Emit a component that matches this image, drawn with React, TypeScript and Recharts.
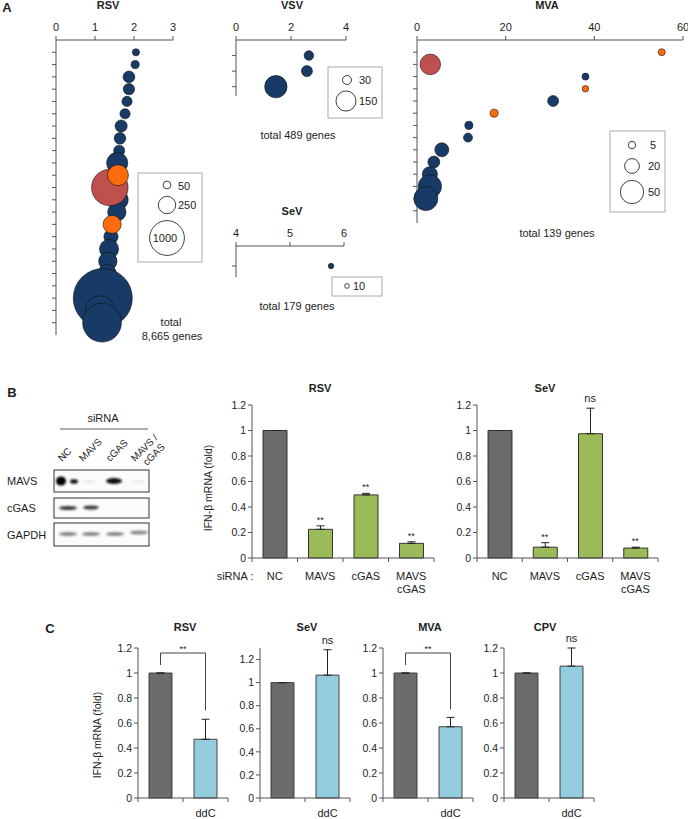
import React from 'react';
import {
  ScatterChart,
  Scatter,
  XAxis,
  YAxis,
  ComposedChart,
  Bar,
  ErrorBar,
  Cell,
  ReferenceLine,
} from 'recharts';

const FONT = '"Liberation Sans", Arial, Helvetica, sans-serif';
const NAVY = '#173a66';
const ORANGE = '#ff6a0a';
const RED = '#c0504d';
const GRAY = '#6b6b6b';
const GREEN = '#9bbb59';
const LBLUE = '#93cddd';
const AX = '#555555';
const TXT = '#1e1e1e';

// ---------------- Panel A data ----------------
type Pt = { x: number; y: number; z: number };

const rsvXTicks = [0, 1, 2, 3];
const rsvRowTicks = [1, 2, 3, 4, 5, 6, 7, 8, 9, 10, 11, 12, 13, 14, 15, 16, 17, 18, 19, 20, 21, 22, 23];
const rsvBlue: Pt[] = [
  { x: 2.05, y: 1, z: 42 },
  { x: 2.03, y: 2, z: 55 },
  { x: 1.87, y: 3, z: 115 },
  { x: 1.87, y: 4, z: 105 },
  { x: 1.82, y: 5, z: 86 },
  { x: 1.77, y: 6, z: 86 },
  { x: 1.67, y: 7, z: 123 },
  { x: 1.64, y: 8, z: 110 },
  { x: 1.62, y: 9, z: 100 },
  { x: 1.57, y: 10, z: 370 },
  { x: 1.6, y: 13, z: 320 },
  { x: 1.56, y: 14, z: 278 },
  { x: 1.41, y: 16, z: 168 },
  { x: 1.36, y: 17, z: 300 },
  { x: 1.33, y: 18, z: 278 },
  { x: 1.31, y: 19, z: 278 },
  { x: 1.28, y: 20, z: 300 },
  { x: 1.2, y: 21, z: 2880 },
  { x: 1.13, y: 22, z: 720 },
  { x: 1.18, y: 23, z: 1240 },
];
const rsvRed: Pt[] = [{ x: 1.38, y: 12, z: 1100 }];
const rsvOrange: Pt[] = [
  { x: 1.59, y: 11, z: 360 },
  { x: 1.44, y: 15, z: 270 },
];
const rsvLegend = [50, 250, 1000];

const vsvXTicks = [0, 2, 4];
const vsvRowTicks = [1, 2, 3];
const vsvBlue: Pt[] = [
  { x: 2.65, y: 1, z: 34 },
  { x: 2.58, y: 2, z: 45 },
  { x: 1.45, y: 3, z: 186 },
];
const vsvLegend = [30, 150];

const sevAXTicks = [4, 5, 6];
const sevARowTicks = [1];
const sevABlue: Pt[] = [{ x: 5.76, y: 1, z: 14 }];
const sevALegend = [10];

const mvaXTicks = [0, 20, 40, 60];
const mvaRowTicks = [1, 2, 3, 4, 5, 6, 7, 8, 9, 10, 11, 12, 13, 14];
const mvaBlue: Pt[] = [
  { x: 38, y: 3, z: 4.5 },
  { x: 30.7, y: 5, z: 11 },
  { x: 11.7, y: 7, z: 6 },
  { x: 11.5, y: 8, z: 7.4 },
  { x: 5.6, y: 9, z: 18 },
  { x: 3.8, y: 10, z: 13 },
  { x: 2.9, y: 11, z: 21 },
  { x: 2.9, y: 12, z: 50 },
  { x: 2.0, y: 13, z: 53 },
];
const mvaRed: Pt[] = [{ x: 3, y: 2, z: 39 }];
const mvaOrange: Pt[] = [
  { x: 55.2, y: 1, z: 4.5 },
  { x: 38, y: 4, z: 3.8 },
  { x: 17.4, y: 6, z: 6 },
];
const mvaLegend = [5, 20, 50];

// ---------------- Panel B data ----------------
const bCategories = ['NC', 'MAVS', 'cGAS', 'MAVS\ncGAS'];
const bRsvValues = [1, 0.225, 0.495, 0.115];
const bRsvErrors = [0, 0.027, 0.012, 0.012];
const bRsvSig = ['', '**', '**', '**'];
const bSevValues = [1, 0.085, 0.975, 0.078];
const bSevErrors = [0, 0.035, 0.2, 0.007];
const bSevSig = ['', '**', 'ns', '**'];
const bYTicks = [0, 0.2, 0.4, 0.6, 0.8, 1, 1.2];
const blotLanes = ['NC', 'MAVS', 'cGAS', 'MAVS /\ncGAS'];
const blotRows = ['MAVS', 'cGAS', 'GAPDH'];

// ---------------- Panel C data ----------------
const cCategories = ['ctrl', 'ddC'];
const cTitles = ['RSV', 'SeV', 'MVA', 'CPV'];
const cRsvValues = [1, 0.47];
const cRsvErrors = [0, 0.16];
const cSevValues = [1, 1.065];
const cSevErrors = [0, 0.22];
const cMvaValues = [1, 0.57];
const cMvaErrors = [0, 0.075];
const cCpvValues = [1, 1.055];
const cCpvErrors = [0, 0.145];
const cSig = [['', ''], ['', 'ns'], ['', ''], ['', 'ns']];
const cYTicks = [0, 0.2, 0.4, 0.6, 0.8, 1, 1.2];

// ---------------- helpers ----------------
const fmtNum = (v: number) => String(Math.round(v * 10) / 10);

function BubblePanel(p: {
  left: number;
  top: number;
  xAxisH: number;
  plotW: number;
  plotH: number;
  right: number;
  bottom: number;
  xDomain: [number, number];
  xTicks: number[];
  yDomain: [number, number];
  yTicks: number[];
  k: number;
  blue: Pt[];
  red?: Pt[];
  orange?: Pt[];
}) {
  const width = 10 + p.plotW + p.right;
  const height = p.xAxisH + p.plotH + p.bottom;
  const shape = (fill: string) => (s: any) =>
    s.cx == null ? (
      <g />
    ) : (
      <circle cx={s.cx} cy={s.cy} r={p.k * Math.sqrt(s.payload.z)} fill={fill} stroke="#111" strokeWidth={0.6} />
    );
  return (
    <div style={{ position: 'absolute', left: p.left, top: p.top }}>
      <ScatterChart
        width={width}
        height={height}
        margin={{ top: 0, right: p.right, bottom: p.bottom, left: 0 }}
        style={{ overflow: 'visible' }}
      >
        <XAxis
          type="number"
          dataKey="x"
          orientation="top"
          domain={p.xDomain}
          ticks={p.xTicks}
          height={p.xAxisH}
          tickSize={4}
          tickMargin={5}
          stroke={AX}
          interval={0}
          tick={{ fontSize: 11, fill: TXT, fontFamily: FONT }}
        />
        <YAxis
          type="number"
          dataKey="y"
          domain={p.yDomain}
          ticks={p.yTicks}
          reversed
          width={10}
          tickSize={4}
          interval={0}
          tickFormatter={() => ''}
          stroke={AX}
        />
        <Scatter data={p.blue} shape={shape(NAVY)} isAnimationActive={false} />
        {p.red && <Scatter data={p.red} shape={shape(RED)} isAnimationActive={false} />}
        {p.orange && <Scatter data={p.orange} shape={shape(ORANGE)} isAnimationActive={false} />}
      </ScatterChart>
    </div>
  );
}

const makeCatTick = (tickMargin: number, firstDy: number, halfBand: number) => (props: any) => {
  const { x, y, payload, index } = props;
  const off = payload && typeof payload.offset === 'number' && payload.offset > 0 ? payload.offset : halfBand;
  const ay = y - tickMargin;
  const raw = String(payload.value);
  const text = raw === 'ctrl' ? '' : raw;
  const lines = text ? text.split('\n') : [];
  return (
    <g>
      {index === 0 && <line x1={x - off} x2={x - off} y1={ay} y2={ay + 4} stroke={AX} />}
      <line x1={x + off} x2={x + off} y1={ay} y2={ay + 4} stroke={AX} />
      <text x={x} y={y} textAnchor="middle" fontSize={11} fill={TXT} fontFamily={FONT}>
        {lines.map((l, i) => (
          <tspan key={i} x={x} dy={i === 0 ? firstDy : 12.5}>
            {l}
          </tspan>
        ))}
      </text>
    </g>
  );
};

const sigShape = (s: any) => {
  const sig = s.payload && s.payload.sig;
  if (!sig || s.cx == null) return <g />;
  const star = sig.indexOf('*') >= 0;
  return (
    <text
      x={s.cx}
      y={s.cy - (star ? 3 : 6)}
      textAnchor="middle"
      fontSize={star ? 9 : 11}
      fill={TXT}
      fontFamily={FONT}
    >
      {sig}
    </text>
  );
};

type Row = { name: string; v: number; err: [number, number]; top: number; sig: string; fill: string };

function buildRows(cats: string[], vals: number[], errs: number[], sig: string[], fills: string[]): Row[] {
  return cats.map((c, i) => ({
    name: c,
    v: vals[i],
    err: [0, errs[i]],
    top: vals[i] + errs[i],
    sig: sig[i],
    fill: fills[i],
  }));
}

function BarPanel(p: {
  left: number;
  top: number;
  marginTop: number;
  plotW: number;
  plotH: number;
  xAxisH: number;
  yDomain: [number, number];
  yTicks: number[];
  data: Row[];
  barSize: number;
  firstDy: number;
  barStroke: string;
  bracket?: { y1: number; y2: number; y3: number };
}) {
  const width = 30 + p.plotW + 6;
  const height = p.marginTop + p.plotH + p.xAxisH;
  const halfBand = p.plotW / p.data.length / 2;
  const n0 = p.data[0].name;
  const n1 = p.data[p.data.length - 1].name;
  return (
    <div style={{ position: 'absolute', left: p.left, top: p.top }}>
      <ComposedChart
        width={width}
        height={height}
        data={p.data}
        margin={{ top: p.marginTop, right: 6, bottom: 0, left: 0 }}
      >
        <XAxis
          dataKey="name"
          type="category"
          height={p.xAxisH}
          tickLine={false}
          tickSize={0}
          tickMargin={5}
          stroke={AX}
          interval={0}
          tick={makeCatTick(5, p.firstDy, halfBand)}
        />
        <YAxis
          type="number"
          domain={p.yDomain}
          ticks={p.yTicks}
          width={30}
          tickSize={4}
          tickMargin={2}
          stroke={AX}
          interval={0}
          tickFormatter={fmtNum}
          tick={{ fontSize: 10.5, fill: TXT, fontFamily: FONT }}
        />
        <Bar dataKey="v" barSize={p.barSize} isAnimationActive={false} stroke={p.barStroke} strokeWidth={0.9}>
          {p.data.map((d, i) => (
            <Cell key={i} fill={d.fill} />
          ))}
          <ErrorBar dataKey="err" width={4} stroke="#222" strokeWidth={1} direction="y" />
        </Bar>
        {p.bracket && (
          <ReferenceLine
            segment={[
              { x: n0, y: p.bracket.y1 },
              { x: n0, y: p.bracket.y2 },
            ]}
            stroke="#444"
            strokeWidth={1}
            ifOverflow="visible"
          />
        )}
        {p.bracket && (
          <ReferenceLine
            segment={[
              { x: n0, y: p.bracket.y2 },
              { x: n1, y: p.bracket.y2 },
            ]}
            stroke="#444"
            strokeWidth={1}
            ifOverflow="visible"
            label={{ value: '**', position: 'top', offset: 1, fontSize: 9, fill: TXT }}
          />
        )}
        {p.bracket && (
          <ReferenceLine
            segment={[
              { x: n1, y: p.bracket.y2 },
              { x: n1, y: p.bracket.y3 },
            ]}
            stroke="#444"
            strokeWidth={1}
            ifOverflow="visible"
          />
        )}
        <Scatter dataKey="top" shape={sigShape} isAnimationActive={false} />
      </ComposedChart>
    </div>
  );
}

function T(props: {
  x: number;
  y: number;
  size?: number;
  bold?: boolean;
  anchor?: 'start' | 'middle' | 'end';
  rotate?: number;
  children: React.ReactNode;
}) {
  const size = props.size || 11;
  const by = props.y + size * 0.36;
  return (
    <text
      x={props.x}
      y={by}
      fontSize={size}
      fontWeight={props.bold ? 'bold' : 'normal'}
      textAnchor={props.anchor || 'middle'}
      fill={TXT}
      fontFamily={FONT}
      transform={props.rotate ? `rotate(${props.rotate} ${props.x} ${props.y})` : undefined}
    >
      {props.children}
    </text>
  );
}

const K_RSV = 0.55;
const K_VSV = 0.82;
const K_SEV = 0.73;
const K_MVA = 1.65;

export default function App() {
  const bRsv = buildRows(bCategories, bRsvValues, bRsvErrors, bRsvSig, [GRAY, GREEN, GREEN, GREEN]);
  const bSev = buildRows(bCategories, bSevValues, bSevErrors, bSevSig, [GRAY, GREEN, GREEN, GREEN]);
  const cData = [
    buildRows(cCategories, cRsvValues, cRsvErrors, cSig[0], [GRAY, LBLUE]),
    buildRows(cCategories, cSevValues, cSevErrors, cSig[1], [GRAY, LBLUE]),
    buildRows(cCategories, cMvaValues, cMvaErrors, cSig[2], [GRAY, LBLUE]),
    buildRows(cCategories, cCpvValues, cCpvErrors, cSig[3], [GRAY, LBLUE]),
  ];
  const cPlotLefts = [138, 260, 383, 504];
  const cDomains: [number, number][] = [
    [0, 1.2],
    [0, 1.3],
    [0, 1.2],
    [0, 1.2],
  ];
  const cBrackets = [
    { y1: 1.064, y2: 1.16, y3: 0.7 },
    undefined,
    { y1: 1.064, y2: 1.16, y3: 0.71 },
    undefined,
  ];
  const cTitleX = [185, 307, 430, 545];

  const laneX = [66, 89, 113, 137];

  return (
    <div
      style={{
        position: 'absolute',
        left: 0,
        top: 0,
        width: 688,
        height: 819,
        background: '#ffffff',
        overflow: 'hidden',
        fontFamily: FONT,
      }}
    >
      {/* Panel A */}
      <BubblePanel
        left={46}
        top={0}
        xAxisH={40}
        plotW={117}
        plotH={295}
        right={10}
        bottom={10}
        xDomain={[0, 3]}
        xTicks={rsvXTicks}
        yDomain={[0, 24]}
        yTicks={rsvRowTicks}
        k={K_RSV}
        blue={rsvBlue}
        red={rsvRed}
        orange={rsvOrange}
      />
      <BubblePanel
        left={226}
        top={0}
        xAxisH={40}
        plotW={110}
        plotH={56}
        right={10}
        bottom={10}
        xDomain={[0, 4]}
        xTicks={vsvXTicks}
        yDomain={[0, 3.6]}
        yTicks={vsvRowTicks}
        k={K_VSV}
        blue={vsvBlue}
      />
      <BubblePanel
        left={226}
        top={216}
        xAxisH={30}
        plotW={108}
        plotH={31}
        right={10}
        bottom={5}
        xDomain={[4, 6]}
        xTicks={sevAXTicks}
        yDomain={[0, 1.55]}
        yTicks={sevARowTicks}
        k={K_SEV}
        blue={sevABlue}
      />
      <BubblePanel
        left={407}
        top={0}
        xAxisH={40}
        plotW={266}
        plotH={183}
        right={5}
        bottom={5}
        xDomain={[0, 60]}
        xTicks={mvaXTicks}
        yDomain={[0, 15]}
        yTicks={mvaRowTicks}
        k={K_MVA}
        blue={mvaBlue}
        red={mvaRed}
        orange={mvaOrange}
      />

      {/* Panel B charts */}
      <BarPanel
        left={222}
        top={390}
        marginTop={15}
        plotW={182}
        plotH={153}
        xAxisH={45}
        yDomain={[0, 1.2]}
        yTicks={bYTicks}
        data={bRsv}
        barSize={24}
        firstDy={17}
        barStroke="#222"
      />
      <BarPanel
        left={447}
        top={390}
        marginTop={15}
        plotW={181}
        plotH={153}
        xAxisH={45}
        yDomain={[0, 1.2]}
        yTicks={bYTicks}
        data={bSev}
        barSize={24}
        firstDy={17}
        barStroke="#222"
      />

      {/* Panel C charts */}
      {cData.map((d, i) => (
        <BarPanel
          key={i}
          left={cPlotLefts[i] - 30}
          top={626}
          marginTop={22}
          plotW={90}
          plotH={150}
          xAxisH={21}
          yDomain={cDomains[i]}
          yTicks={cYTicks}
          data={d}
          barSize={23}
          firstDy={14}
          barStroke="#333"
          bracket={cBrackets[i]}
        />
      ))}

      {/* Overlay text & non-chart graphics */}
      <svg
        width={688}
        height={819}
        style={{ position: 'absolute', left: 0, top: 0, pointerEvents: 'none' }}
      >
        <defs>
          <filter id="bl" x="-50%" y="-100%" width="200%" height="300%">
            <feGaussianBlur stdDeviation="0.9" />
          </filter>
        </defs>

        {/* A labels */}
        <T x={7} y={7} size={13} bold>
          A
        </T>
        <T x={108} y={5} bold>
          RSV
        </T>
        <T x={292} y={5} bold>
          VSV
        </T>
        <T x={547} y={5} bold>
          MVA
        </T>
        <T x={292} y={211} bold>
          SeV
        </T>

        {/* RSV legend */}
        <rect x={138} y={173} width={64} height={89} fill="none" stroke="#aaaaaa" strokeWidth={1} />
        <circle cx={167} cy={185} r={K_RSV * Math.sqrt(rsvLegend[0])} fill="#fff" stroke="#111" strokeWidth={0.8} />
        <T x={178} y={186} anchor="start">
          {String(rsvLegend[0])}
        </T>
        <circle cx={167} cy={205} r={K_RSV * Math.sqrt(rsvLegend[1])} fill="#fff" stroke="#111" strokeWidth={0.8} />
        <T x={178} y={205} anchor="start">
          {String(rsvLegend[1])}
        </T>
        <circle cx={167} cy={238} r={K_RSV * Math.sqrt(rsvLegend[2])} fill="#fff" stroke="#111" strokeWidth={0.8} />
        <T x={165} y={238}>
          {String(rsvLegend[2])}
        </T>
        <T x={171} y={322}>
          total
        </T>
        <T x={172} y={336}>
          8,665 genes
        </T>

        {/* VSV legend */}
        <rect x={328} y={67} width={54} height={51} fill="none" stroke="#aaaaaa" strokeWidth={1} />
        <circle cx={347} cy={80} r={K_VSV * Math.sqrt(vsvLegend[0])} fill="#fff" stroke="#111" strokeWidth={0.8} />
        <T x={359} y={80} anchor="start">
          {String(vsvLegend[0])}
        </T>
        <circle cx={346} cy={101} r={K_VSV * Math.sqrt(vsvLegend[1])} fill="#fff" stroke="#111" strokeWidth={0.8} />
        <T x={359} y={101} anchor="start">
          {String(vsvLegend[1])}
        </T>
        <T x={298} y={135}>
          total 489 genes
        </T>

        {/* SeV legend */}
        <rect x={332} y={277} width={50} height={19} fill="none" stroke="#aaaaaa" strokeWidth={1} />
        <circle cx={347} cy={286} r={K_SEV * Math.sqrt(sevALegend[0])} fill="#fff" stroke="#111" strokeWidth={0.8} />
        <T x={353} y={286} anchor="start">
          {String(sevALegend[0])}
        </T>
        <T x={297} y={306}>
          total 179 genes
        </T>

        {/* MVA legend */}
        <rect x={610} y={131} width={55} height={81} fill="none" stroke="#aaaaaa" strokeWidth={1} />
        <circle cx={632} cy={145} r={K_MVA * Math.sqrt(mvaLegend[0])} fill="#fff" stroke="#111" strokeWidth={0.8} />
        <T x={650} y={145} anchor="start">
          {String(mvaLegend[0])}
        </T>
        <circle cx={632} cy={166} r={K_MVA * Math.sqrt(mvaLegend[1])} fill="#fff" stroke="#111" strokeWidth={0.8} />
        <T x={648} y={166} anchor="start">
          {String(mvaLegend[1])}
        </T>
        <circle cx={632} cy={192} r={K_MVA * Math.sqrt(mvaLegend[2])} fill="#fff" stroke="#111" strokeWidth={0.8} />
        <T x={648} y={192} anchor="start">
          {String(mvaLegend[2])}
        </T>
        <T x={557} y={233}>
          total 139 genes
        </T>

        {/* B labels */}
        <T x={12} y={392} size={13} bold>
          B
        </T>
        <T x={103} y={418}>
          siRNA
        </T>
        <line x1={60} x2={148} y1={429} y2={429} stroke="#333" strokeWidth={0.8} />
        {blotLanes.map((l, i) => {
          const parts = l.split('\n');
          const bx = [62, 83, 110, 135][i];
          return (
            <g key={l}>
              <text
                x={bx}
                y={462}
                fontSize={10}
                fill={TXT}
                fontFamily={FONT}
                transform={`rotate(-45 ${bx} 462)`}
              >
                {parts[0]}
              </text>
              {parts[1] && (
                <text
                  x={bx + 12}
                  y={466}
                  fontSize={10}
                  fill={TXT}
                  fontFamily={FONT}
                  transform={`rotate(-45 ${bx + 12} 466)`}
                >
                  {parts[1]}
                </text>
              )}
            </g>
          );
        })}
        {blotRows.map((r, i) => (
          <T key={r} x={7} y={[481, 508, 535][i]} anchor="start">
            {r}
          </T>
        ))}
        {/* blots */}
        <rect x={54} y={470} width={95} height={22} fill="#fbfbfb" stroke="#333" strokeWidth={1} />
        <rect x={54} y={498} width={95} height={20} fill="#fbfbfb" stroke="#333" strokeWidth={1} />
        <rect x={54} y={523} width={95} height={23} fill="#fbfbfb" stroke="#333" strokeWidth={1} />
        <g filter="url(#bl)">
          <ellipse cx={61} cy={481} rx={5} ry={4.5} fill="#000" />
          <ellipse cx={74} cy={481.5} rx={4} ry={2.2} fill="#111" />
          <ellipse cx={89} cy={481.5} rx={7} ry={1.2} fill="#e2e2e2" />
          <ellipse cx={114} cy={481} rx={8} ry={3} fill="#0c0c0c" />
          <ellipse cx={139} cy={481.5} rx={6} ry={1.2} fill="#e6e6e6" />
          <ellipse cx={laneX[0] + 2} cy={508} rx={9} ry={2} fill="#3c3c3c" />
          <ellipse cx={laneX[1] + 2} cy={507.5} rx={8} ry={2} fill="#3c3c3c" />
          {laneX.map((lx, i) => (
            <ellipse key={i} cx={lx + 2} cy={534 - (i === 3 ? 1.5 : 0)} rx={9} ry={2} fill="#8a8a8a" />
          ))}
        </g>

        {/* B chart titles and axis labels */}
        <T x={320} y={388} bold>
          RSV
        </T>
        <T x={545} y={388} bold>
          SeV
        </T>
        <T x={208} y={488} size={10.5} rotate={-90}>
          IFN-β mRNA (fold)
        </T>
        <T x={235} y={576}>
          siRNA :
        </T>

        {/* C labels */}
        <T x={50} y={628} size={13} bold>
          C
        </T>
        {cTitles.map((t, i) => (
          <T key={t} x={cTitleX[i]} y={627} bold>
            {t}
          </T>
        ))}
        <T x={97} y={735} size={10.5} rotate={-90}>
          IFN-β mRNA (fold)
        </T>
      </svg>
    </div>
  );
}
